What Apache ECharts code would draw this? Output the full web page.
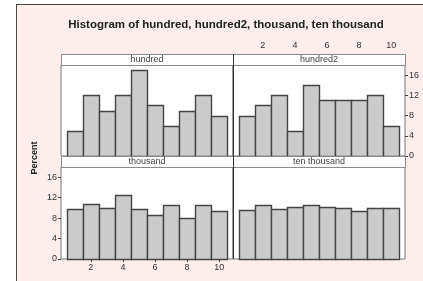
<!DOCTYPE html>
<html><head><meta charset="utf-8">
<script src="https://cdn.jsdelivr.net/npm/echarts@6/dist/echarts.min.js"></script>
<style>
html,body{margin:0;padding:0;background:#fff;}
#bg{position:absolute;left:16px;top:4px;width:407px;height:277px;background:#fdeded;border-left:1.5px solid #4a4a3a;border-top:1.5px solid #4a4a3a;}
#c{position:absolute;left:0;top:0;width:423px;height:281px;}
</style></head>
<body><div id="bg"></div><div id="c"></div>
<script>
const title = 'Histogram of hundred, hundred2, thousand, ten thousand';
const panelNames = ['hundred', 'hundred2', 'thousand', 'ten thousand'];
const bins = [1, 2, 3, 4, 5, 6, 7, 8, 9, 10];
const hundred = [5, 12, 9, 12, 17, 10, 6, 9, 12, 8];
const hundred2 = [8, 10, 12, 5, 14, 11, 11, 11, 12, 6];
const thousand = [9.8, 10.8, 10.0, 12.5, 9.7, 8.6, 10.65, 8.0, 10.65, 9.3];
const tenThousand = [9.5, 10.5, 9.85, 10.1, 10.5, 10.2, 10.0, 9.45, 10.0, 10.0];
const xTicks = [2, 4, 6, 8, 10];
const yTicks = [0, 4, 8, 12, 16];
const yLabel = 'Percent';

const seriesVals = [hundred, hundred2, thousand, tenThousand];
const font = 'Liberation Sans';
const grids = [
  {left: 61, top: 65, width: 172, height: 91},
  {left: 233, top: 65, width: 172, height: 91},
  {left: 61, top: 167, width: 172, height: 92},
  {left: 233, top: 167, width: 172, height: 92}
];
const chart = echarts.init(document.getElementById('c'), null, {renderer: 'canvas'});
const lblStyle = {color: '#333', fontSize: 9, fontFamily: font};
const xAxes = grids.map((g, i) => {
  const showLbl = (i === 1 || i === 2);
  return {
    type: 'value', gridIndex: i, min: 0.14, max: 10.86,
    position: i === 1 ? 'top' : 'bottom',
    offset: i === 1 ? 11 : 0,
    splitLine: {show: false},
    axisLine: {show: i === 1, lineStyle: {color: '#888'}},
    axisTick: {show: showLbl, length: 3, inside: false, customValues: xTicks, lineStyle: {color: '#444'}},
    axisLabel: Object.assign({show: showLbl, margin: 4, customValues: xTicks}, lblStyle)
  };
});
const yAxes = grids.map((g, i) => {
  const showLbl = (i === 1 || i === 2);
  return {
    type: 'value', gridIndex: i, min: 0, max: 18,
    position: i === 1 ? 'right' : 'left',
    splitLine: {show: false},
    axisLine: {show: false},
    axisTick: {show: showLbl, length: 3, customValues: yTicks, lineStyle: {color: '#444'}},
    axisLabel: Object.assign({show: showLbl, margin: 4, customValues: yTicks}, lblStyle)
  };
});
const series = seriesVals.map((vals, i) => ({
  type: 'custom', xAxisIndex: i, yAxisIndex: i,
  data: bins.map((b, k) => [b, vals[k]]),
  encode: {x: 0, y: 1},
  renderItem: function (params, api) {
    const x = api.value(0), y = api.value(1);
    const p0 = api.coord([x - 0.5, 0]);
    const p1 = api.coord([x + 0.5, y]);
    return {type: 'rect',
      shape: {x: Math.round(p0[0]) + 0.5, y: Math.round(p1[1]) + 0.5, width: Math.round(p1[0]) - Math.round(p0[0]), height: Math.round(p0[1]) - Math.round(p1[1])},
      style: {fill: '#cbcbcb', stroke: '#444', lineWidth: 1.4}};
  }
}));
const strips = [];
const stripPos = [[61, 54], [233, 54], [61, 156], [233, 156]];
stripPos.forEach((p, i) => {
  strips.push({type: 'rect', z: 10, shape: {x: p[0] + 0.5, y: p[1] + 0.5, width: 172, height: 11},
    style: {fill: '#fff', stroke: '#8a8a8a', lineWidth: 1}});
  strips.push({type: 'text', z: 11, x: p[0] + 86, y: p[1] + 6,
    style: {text: panelNames[i], fill: '#444', font: '9px ' + font, textAlign: 'center', textVerticalAlign: 'middle'}});
});
strips.push({type: 'text', z: 11, x: 35, y: 158, rotation: Math.PI / 2,
  style: {text: yLabel, fill: '#222', font: 'bold 9px ' + font, textAlign: 'center', textVerticalAlign: 'middle'}});
strips.push({type: 'line', z: 12, shape: {x1: 233.5, y1: 54, x2: 233.5, y2: 259}, style: {stroke: '#333', lineWidth: 1}});
strips.push({type: 'text', z: 11, x: 226, y: 25,
  style: {text: title, fill: '#222', font: 'bold 11.5px ' + font, textAlign: 'center', textVerticalAlign: 'middle'}});
chart.setOption({
  animation: false,
  backgroundColor: 'transparent',
  grid: grids.map(g => Object.assign({show: true, backgroundColor: '#fff', borderColor: '#777', borderWidth: 1}, g)),
  xAxis: xAxes,
  yAxis: yAxes,
  series: series,
  graphic: strips
});
</script></body></html>
